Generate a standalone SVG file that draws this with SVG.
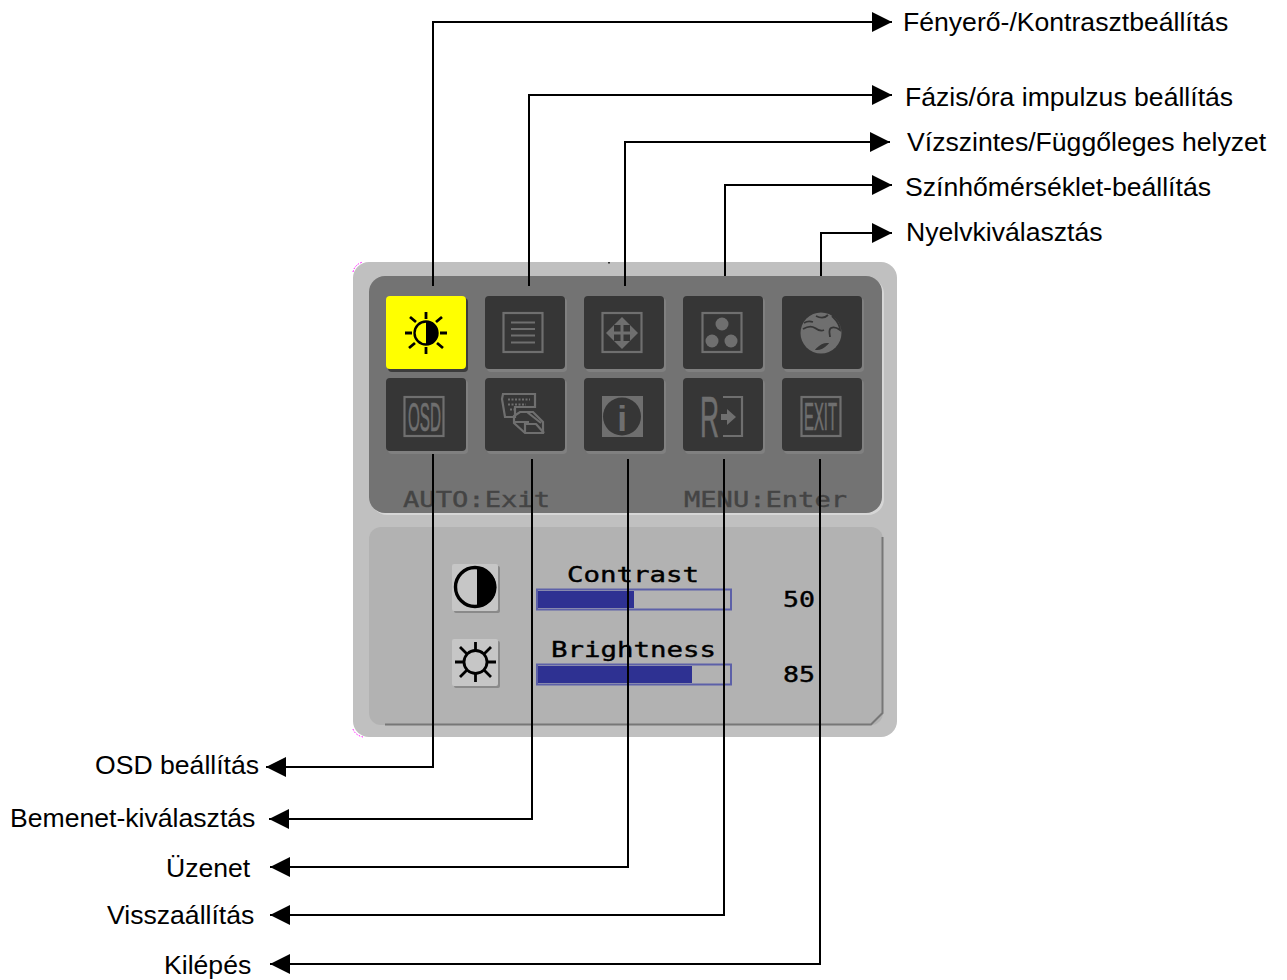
<svg xmlns="http://www.w3.org/2000/svg" width="1287" height="980" viewBox="0 0 1287 980">
<style>
.lb{font-family:"Liberation Sans",Arial,sans-serif;font-size:26.6px;fill:#000}
.mono{font-family:"DejaVu Sans Mono","Liberation Mono",monospace;font-size:22px;fill:#000;stroke:#000;stroke-width:.4}
.dim{fill:#444;stroke:#444}
.btn{fill:#363636;stroke:none}
.sh{fill:#808080}
.ic{fill:none;stroke:#6f6f6f;stroke-width:2.2}
.icf{fill:#6f6f6f}
.ict{font-family:"Liberation Sans",Arial,sans-serif;fill:#6f6f6f;stroke:#6f6f6f;stroke-width:.7}
.con{fill:none;stroke:#000;stroke-width:2}
.ray{stroke:#000;stroke-width:2.8;fill:none}
.tr{fill:none;stroke:#5c60a8;stroke-width:2}
.fl{fill:#2e3192}
.sb{fill:#c6c6c6}
.sbs{fill:#8a8a8a}
</style>
<defs>
<marker id="arr" markerUnits="userSpaceOnUse" markerWidth="20" markerHeight="22" refX="20" refY="11" orient="auto"><path d="M0 1L20 11L0 21Z" fill="#000"/></marker>
<g id="b"><rect class="sh" x="2" y="2" width="80" height="74" rx="4"/><rect class="btn" width="80" height="73" rx="4"/></g>
</defs>
<g id="osd-panel">
<rect x="353" y="262" width="544" height="475" rx="16" fill="#c0c0c0"/>
<path d="M353 272Q355 264 363 262M353 729Q355 735 363 737" fill="none" stroke="#f0f" stroke-width="1" stroke-dasharray="1.500 1.500"/>
<rect x="608" y="262" width="2" height="1.500" fill="#333"/>
<rect x="371" y="278" width="513" height="237" rx="16" fill="#d6d6d6"/>
<rect x="369" y="276" width="513" height="237" rx="16" fill="#737373"/>
<rect x="369" y="527" width="514" height="198" rx="12" fill="#b2b2b2"/>
<path d="M385 724.500H871L882.500 713V537" fill="none" stroke="#777" stroke-width="2"/>
<text class="mono dim" x="403" y="507" textLength="147" lengthAdjust="spacingAndGlyphs">AUTO:Exit</text>
<text class="mono dim" x="684" y="507" textLength="163" lengthAdjust="spacingAndGlyphs">MENU:Enter</text>
</g>
<g id="btn-brightness">
<rect x="388" y="298" width="80" height="74" rx="4" fill="#3c3c3c"/>
<rect x="386" y="296" width="80" height="73" rx="4" fill="#ffff00"/>
<circle cx="426" cy="333" r="11.500" fill="#ffff00" stroke="#000" stroke-width="2.400"/>
<path d="M426 321.500a11.500 11.500 0 0 1 0 23Z" fill="#000"/>
<path class="ray" d="M426 312v7M426 347v7M405 333h7M440 333h7M410 317l6 5M442 317l-6 5M409 348l6-5M443 348l-6-5"/>
</g>
<g id="btn-phase">
<use href="#b" x="485" y="296"/>
<rect class="ic" x="503.500" y="313" width="39" height="39"/>
<path class="ic" d="M511 322.500h24M511 329h24M511 335.500h24M511 342.500h24"/>
</g>
<g id="btn-position">
<use href="#b" x="584" y="296"/>
<rect class="ic" x="602.500" y="313" width="39" height="39"/>
<path class="icf" d="M622 317l8 8h-16ZM622 349l8-8h-16ZM606 333l8-8v16ZM638 333l-8-8v16Z"/>
<path d="M622 322v22M611 333h22" stroke="#6f6f6f" stroke-width="3" fill="none"/>
</g>
<g id="btn-color">
<use href="#b" x="683" y="296"/>
<rect class="ic" x="702.500" y="313" width="39" height="39"/>
<circle class="icf" cx="722" cy="324" r="6.500"/><circle class="icf" cx="712" cy="341" r="6.500"/><circle class="icf" cx="731" cy="341" r="6.500"/>
</g>
<g id="btn-language">
<use href="#b" x="782" y="296"/>
<circle class="icf" cx="821" cy="333" r="20.500"/>
<path d="M816 316c4 2 8 3 12-1M832 316c3 3 8 7 8 14-4-3-7-3-9-2-3 2-1 6-1 9M803 329c5-3 9-3 12-1 4 3 7 3 9 2M804 323c3-2 6-2 9-1M827 344c-3 3-7 5-10 5 3-3 6-5 10-5Z" fill="none" stroke="#363636" stroke-width="1.800"/>
</g>
<g id="btn-osd">
<use href="#b" x="386" y="378"/>
<rect class="ic" x="404.500" y="397" width="39" height="39"/>
<text class="ict" x="408" y="431" font-size="40" textLength="33" lengthAdjust="spacingAndGlyphs">OSD</text>
</g>
<g id="btn-input">
<use href="#b" x="485" y="378"/>
<path class="ic" d="M503 394h32v13h-20v10h-10l-3-18Z"/>
<path d="M508 399.500h22M508 404.500h18M510 409.500h4" stroke="#6f6f6f" stroke-width="2.200" stroke-dasharray="2 1.500" fill="none"/>
<path class="ic" d="M514 416l6-4h13l10 10v11h-18l-11-10Z"/>
<path class="ic" d="M514 422h15M527 412l14 11M525 423v9M526 424h10l8 9" stroke-linejoin="round"/>
</g>
<g id="btn-info">
<use href="#b" x="584" y="378"/>
<rect class="icf" x="602" y="396" width="41" height="41"/>
<circle cx="622" cy="416.500" r="19" fill="#363636"/>
<text x="622" y="431" text-anchor="middle" font-family="Liberation Sans,Arial,sans-serif" font-weight="700" font-size="35" fill="#6f6f6f">i</text>
</g>
<g id="btn-reset">
<use href="#b" x="683" y="378"/>
<text class="ict" x="700" y="437" font-size="57" textLength="19" lengthAdjust="spacingAndGlyphs">R</text>
<path class="ic" d="M723 397h19v39h-19"/>
<path class="icf" d="M721 414h6v-5l9 8-9 8v-5h-6Z"/>
</g>
<g id="btn-exit">
<use href="#b" x="782" y="378"/>
<rect class="ic" x="801.500" y="397" width="39" height="39"/>
<text class="ict" x="804" y="430" font-size="39" textLength="33" lengthAdjust="spacingAndGlyphs">EXIT</text>
</g>
<g id="contrast-setting">
<rect class="sbs" x="454" y="566" width="46" height="47" rx="2"/>
<rect class="sb" x="452" y="564" width="46" height="47" rx="2"/>
<circle cx="475" cy="587" r="19.500" fill="#c6c6c6" stroke="#000" stroke-width="3.400"/>
<path d="M477 568a19.500 19.500 0 0 1 0 39Z" fill="#000"/>
<text class="mono" x="567" y="582" textLength="132" lengthAdjust="spacingAndGlyphs">Contrast</text>
<rect class="tr" x="537" y="589.500" width="194" height="20"/>
<rect class="fl" x="538" y="591" width="96" height="17"/>
<text class="mono" x="783" y="607" textLength="32" lengthAdjust="spacingAndGlyphs">50</text>
</g>
<g id="brightness-setting">
<rect class="sbs" x="454" y="641" width="46" height="47" rx="2"/>
<rect class="sb" x="452" y="639" width="46" height="47" rx="2"/>
<circle cx="475.500" cy="662" r="11.500" fill="none" stroke="#000" stroke-width="2.800"/>
<path class="ray" d="M475.500 642v9M475.500 673v9M455 662h9M487 662h9M460 647l7 7M491 647l-7 7M460 677l7-7M491 677l-7-7"/>
<text class="mono" x="551" y="657" textLength="165" lengthAdjust="spacingAndGlyphs">Brightness</text>
<rect class="tr" x="537" y="664.500" width="194" height="20"/>
<rect class="fl" x="538" y="666" width="154" height="17"/>
<text class="mono" x="783" y="682" textLength="32" lengthAdjust="spacingAndGlyphs">85</text>
</g>
<g id="connectors">
<path class="con" marker-end="url(#arr)" d="M433 286V22H892"/>
<path class="con" marker-end="url(#arr)" d="M529 286V95H892"/>
<path class="con" marker-end="url(#arr)" d="M625 286V142H890"/>
<path class="con" marker-end="url(#arr)" d="M725 276V185H892"/>
<path class="con" marker-end="url(#arr)" d="M821 276V233H892"/>
<path class="con" marker-end="url(#arr)" d="M433 454V767H266"/>
<path class="con" marker-end="url(#arr)" d="M532 459V819H269"/>
<path class="con" marker-end="url(#arr)" d="M628 459V867H270"/>
<path class="con" marker-end="url(#arr)" d="M724 459V915H270"/>
<path class="con" marker-end="url(#arr)" d="M820 459V964H270"/>
</g>
<g id="labels">
<text class="lb" x="903" y="31">Fényerő-/Kontrasztbeállítás</text>
<text class="lb" x="905" y="106">Fázis/óra impulzus beállítás</text>
<text class="lb" x="907" y="151">Vízszintes/Függőleges helyzet</text>
<text class="lb" x="905" y="196">Színhőmérséklet-beállítás</text>
<text class="lb" x="906" y="241">Nyelvkiválasztás</text>
<text class="lb" x="95" y="774">OSD beállítás</text>
<text class="lb" x="10" y="827">Bemenet-kiválasztás</text>
<text class="lb" x="166" y="877">Üzenet</text>
<text class="lb" x="107" y="924">Visszaállítás</text>
<text class="lb" x="164" y="974">Kilépés</text>
</g>
</svg>
